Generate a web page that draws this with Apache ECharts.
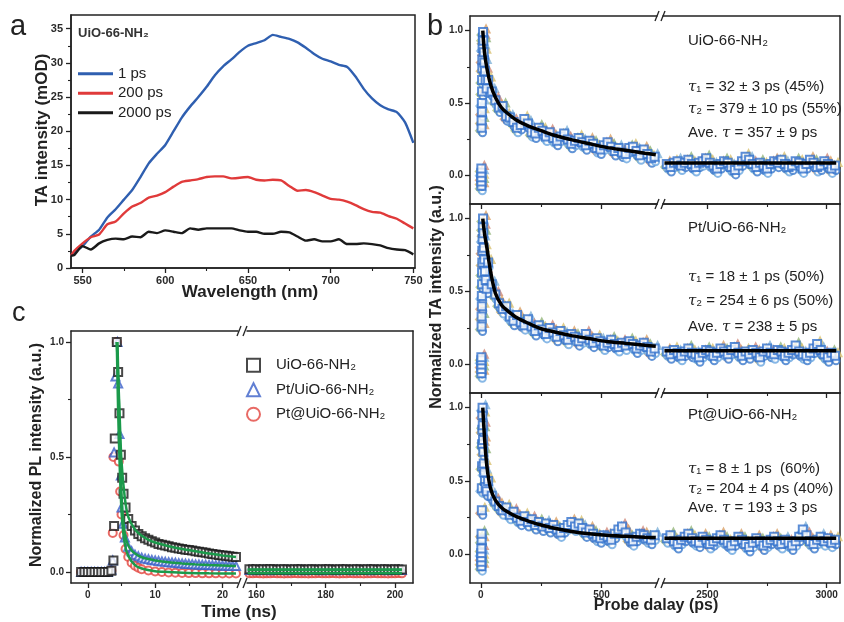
<!DOCTYPE html>
<html><head><meta charset="utf-8">
<script src="https://cdn.jsdelivr.net/npm/echarts@6/dist/echarts.min.js"></script>
<style>html,body{margin:0;padding:0;background:#fff}#c{width:844px;height:622px}</style>
</head><body><div id="c"></div>
<script>
// ---------- Panel a: TA spectra ----------
const wavelength = [543,545,550,555,560,565,570,575,580,585,590,595,600,605,610,615,620,625,630,635,640,645,650,655,660,665,670,675,680,685,690,695,700,705,710,715,720,725,730,735,740,745,750];
const ta1ps    = [1.8,2.3,3.2,4.6,5.6,7.4,8.6,10.0,11.4,13.3,15.3,16.7,18.0,20.0,22.0,23.6,25.0,26.5,28.2,29.5,30.5,31.6,32.5,32.9,33.3,34.1,33.8,33.5,33.0,32.2,31.3,30.6,30.2,29.7,29.4,28.0,26.2,24.8,23.8,23.2,22.8,21.3,18.3];
const ta200ps  = [1.8,2.5,3.6,4.5,4.9,6.4,6.8,8.0,9.0,9.5,10.3,10.6,11.1,11.9,12.6,12.8,13.0,13.3,13.4,13.4,13.1,13.2,13.3,12.9,12.8,12.9,12.8,12.0,11.3,11.4,11.1,10.6,10.1,10.0,9.7,9.2,8.6,8.2,8.1,7.6,7.2,6.5,5.8];
const ta2000ps = [1.8,1.9,3.2,2.7,3.6,4.1,4.3,4.2,4.6,4.5,5.3,5.1,5.5,5.3,5.1,5.8,5.6,5.8,5.8,5.8,5.8,5.5,5.3,5.3,5.0,5.0,5.3,5.2,4.6,4.0,4.2,3.9,3.9,4.2,3.5,3.5,3.6,3.5,3.3,2.9,2.7,2.6,2.0];
const aXTicks = [550,600,650,700,750];
const aXMinor = [575,625,675,725];
const aYTicks = [0,5,10,15,20,25,30,35];
const aYMinor = [2.5,7.5,12.5,17.5,22.5,27.5,32.5];

// ---------- Panel b: TA kinetics ----------
const bEarlyT = [2,2,2,2,2,3,3,4,4,5,5,6,6,7,8,9,10,12,14,17,20,24];
const bEarly1 = [-0.07,-0.04,-0.01,0.02,0.05,0.33,0.38,0.44,0.5,0.58,0.66,0.74,0.8,0.88,0.95,0.99,0.93,0.85,0.78,0.72,0.66,0.6];
const bEarly2 = [-0.06,-0.03,0.0,0.03,0.05,0.26,0.33,0.4,0.47,0.55,0.63,0.7,0.78,0.86,0.94,1.0,0.9,0.8,0.72,0.64,0.58,0.52];
const bEarly3 = [-0.08,-0.05,-0.02,0.01,0.04,0.1,0.14,0.3,0.45,0.6,0.75,0.85,0.95,1.0,0.88,0.78,0.7,0.62,0.56,0.5,0.46,0.43];
const bLeftT = [30,45,60,75,90,105,120,135,150,165,180,195,210,225,240,255,270,285,300,315,330,345,360,375,390,405,420,435,450,465,480,495,510,525,540,555,570,585,600,615,630,645,660,675,690,705,720];
const bLeft1 = [0.66,0.58,0.52,0.47,0.48,0.41,0.40,0.37,0.33,0.35,0.39,0.36,0.30,0.29,0.33,0.31,0.27,0.30,0.26,0.24,0.27,0.29,0.25,0.22,0.24,0.26,0.23,0.21,0.24,0.22,0.19,0.18,0.21,0.23,0.20,0.17,0.19,0.16,0.15,0.19,0.20,0.17,0.14,0.18,0.15,0.12,0.13];
const bLeft2 = [0.70,0.55,0.48,0.42,0.38,0.40,0.33,0.30,0.34,0.29,0.27,0.31,0.26,0.23,0.27,0.24,0.21,0.25,0.22,0.19,0.23,0.20,0.17,0.21,0.19,0.16,0.18,0.21,0.17,0.15,0.18,0.16,0.13,0.15,0.17,0.14,0.12,0.15,0.13,0.16,0.14,0.11,0.13,0.15,0.12,0.09,0.11];
const bLeft3 = [0.50,0.40,0.36,0.33,0.30,0.32,0.27,0.29,0.25,0.23,0.26,0.22,0.24,0.20,0.22,0.19,0.21,0.18,0.20,0.17,0.15,0.18,0.20,0.22,0.19,0.21,0.18,0.15,0.17,0.14,0.12,0.11,0.13,0.12,0.10,0.14,0.17,0.19,0.15,0.11,0.09,0.12,0.14,0.13,0.11,0.10,0.13];
const bRightT = [2330,2345,2360,2375,2390,2405,2420,2435,2450,2465,2480,2495,2510,2525,2540,2555,2570,2585,2600,2615,2630,2645,2660,2675,2690,2705,2720,2735,2750,2765,2780,2795,2810,2825,2840,2855,2870,2885,2900,2915,2930,2945,2960,2975,2990,3005,3020,3035];
const bRight1 = [0.08,0.06,0.09,0.10,0.07,0.09,0.11,0.08,0.06,0.09,0.10,0.12,0.09,0.07,0.05,0.08,0.10,0.09,0.06,0.04,0.07,0.10,0.13,0.11,0.08,0.06,0.09,0.07,0.05,0.08,0.10,0.09,0.11,0.08,0.06,0.07,0.10,0.09,0.05,0.08,0.11,0.09,0.06,0.07,0.10,0.08,0.05,0.07];
const bRight2 = [0.09,0.07,0.10,0.08,0.06,0.09,0.11,0.08,0.07,0.05,0.08,0.10,0.09,0.06,0.08,0.11,0.09,0.07,0.10,0.12,0.08,0.06,0.09,0.07,0.10,0.08,0.05,0.09,0.11,0.08,0.07,0.10,0.09,0.06,0.08,0.10,0.13,0.09,0.07,0.06,0.08,0.11,0.14,0.10,0.07,0.05,0.08,0.06];
const bRight3 = [0.11,0.13,0.09,0.07,0.10,0.12,0.14,0.11,0.09,0.08,0.12,0.10,0.07,0.09,0.11,0.13,0.10,0.08,0.06,0.09,0.12,0.10,0.07,0.05,0.08,0.11,0.09,0.06,0.08,0.10,0.12,0.09,0.07,0.10,0.08,0.06,0.09,0.12,0.17,0.13,0.09,0.07,0.10,0.12,0.09,0.11,0.08,0.10];
const bFitT = [8,15,25,40,60,85,110,150,200,250,300,370,450,520,600,680,725];
const bFit1 = [1.0,0.85,0.74,0.63,0.54,0.47,0.43,0.38,0.34,0.31,0.28,0.25,0.22,0.195,0.175,0.155,0.145];
const bFit2 = [1.0,0.9,0.8,0.64,0.49,0.41,0.37,0.32,0.28,0.245,0.225,0.2,0.178,0.158,0.145,0.132,0.125];
const bFit3 = [1.0,0.8,0.6,0.45,0.37,0.32,0.29,0.255,0.225,0.2,0.18,0.158,0.14,0.13,0.123,0.117,0.115];
const bFitRT = [2320,3040];
const bFitR1 = [0.088,0.088];
const bFitR2 = [0.095,0.095];
const bFitR3 = [0.11,0.11];
const bLeftTicks = [0,500], bLeftMinor = [250];
const bRightTicks = [2500,3000], bRightMinor = [2750];
const bYTicks = [0,0.5,1.0], bYMinor = [0.25,0.75];
const bTitles = ['UiO-66-NH₂','Pt/UiO-66-NH₂','Pt@UiO-66-NH₂'];
const bTau1 = ['{i|τ}₁ = 32 ± 3 ps (45%)','{i|τ}₁ = 18 ± 1 ps (50%)','{i|τ}₁ = 8 ± 1 ps  (60%)'];
const bTau2 = ['{i|τ}₂ = 379 ± 10 ps (55%)','{i|τ}₂ = 254 ± 6 ps (50%)','{i|τ}₂ = 204 ± 4 ps (40%)'];
const bAve  = ['Ave. {i|τ} = 357 ± 9 ps','Ave. {i|τ} = 238 ± 5 ps','Ave. {i|τ} = 193 ± 3 ps'];

// ---------- Panel c: PL decay ----------
const cBlackT = [-1,-0.5,0,0.5,1,1.5,2,2.5,3,3.5,3.8,3.9,4.0,4.3,4.5,4.7,4.9,5.1,5.3,5.6,6,6.5,7,7.5,8,8.5,9,9.5,10,10.5,11,11.5,12,12.5,13,13.5,14,14.5,15,15.5,16,16.5,17,17.5,18,18.5,19,19.5,20,20.5,21,21.5,22];
const cBlackV = [0,0,0,0,0,0,0,0,0,0.005,0.05,0.2,0.58,1.0,0.87,0.69,0.51,0.41,0.34,0.28,0.23,0.2,0.18,0.165,0.155,0.147,0.14,0.134,0.128,0.122,0.118,0.115,0.112,0.108,0.105,0.102,0.1,0.097,0.095,0.093,0.09,0.088,0.086,0.084,0.08,0.078,0.076,0.074,0.072,0.07,0.068,0.066,0.065];
const cBlueT = [-1,-0.5,0,0.5,1,1.5,2,2.5,3,3.5,3.7,3.9,4.1,4.4,4.5,4.7,4.9,5.0,5.2,5.5,6,6.5,7,7.5,8,8.5,9,9.5,10,10.5,11,11.5,12,12.5,13,13.5,14,14.5,15,15.5,16,16.5,17,17.5,18,18.5,19,19.5,20,20.5,21,21.5,22];
const cBlueV = [0,0,0,0,0,0,0,0,0,0.01,0.05,0.52,0.85,1.0,0.82,0.6,0.42,0.28,0.21,0.15,0.11,0.09,0.075,0.068,0.062,0.058,0.055,0.052,0.05,0.048,0.046,0.044,0.042,0.041,0.04,0.038,0.037,0.036,0.035,0.034,0.033,0.032,0.031,0.031,0.03,0.029,0.029,0.028,0.028,0.027,0.027,0.026,0.026];
const cRedT = [-1,-0.5,0,0.5,1,1.5,2,2.5,3,3.5,3.7,3.8,4.3,4.6,4.8,5.0,5.3,5.6,6,6.5,7,7.5,8,9,10,11,12,13,14,15,16,17,18,19,20,21,22];
const cRedV = [0,0,0,0,0,0,0,0,0,0.005,0.17,0.5,1.0,0.48,0.35,0.25,0.16,0.1,0.065,0.04,0.027,0.018,0.012,0.006,0.002,0,-0.002,-0.003,-0.004,-0.005,-0.005,-0.006,-0.006,-0.006,-0.007,-0.007,-0.007];
const cRightT = [158,159,160,161,162,163,164,165,166,167,168,169,170,171,172,173,174,175,176,177,178,179,180,181,182,183,184,185,186,187,188,189,190,191,192,193,194,195,196,197,198,199,200,201,202];
const cBlackR = [0.012,0.011,0.012,0.010,0.012,0.011,0.012,0.012,0.010,0.011,0.012,0.011,0.010,0.012,0.011,0.012,0.010,0.011,0.012,0.011,0.010,0.012,0.011,0.012,0.011,0.010,0.012,0.011,0.012,0.010,0.011,0.012,0.011,0.010,0.012,0.011,0.012,0.010,0.011,0.012,0.011,0.010,0.012,0.011,0.011];
const cBlueR  = [0.008,0.009,0.007,0.008,0.009,0.008,0.007,0.008,0.009,0.008,0.008,0.007,0.009,0.008,0.008,0.009,0.007,0.008,0.008,0.009,0.008,0.007,0.008,0.009,0.008,0.007,0.008,0.009,0.008,0.008,0.007,0.009,0.008,0.008,0.009,0.007,0.008,0.008,0.009,0.008,0.007,0.008,0.009,0.008,0.008];
const cRedR   = [-0.006,-0.006,-0.005,-0.006,-0.007,-0.006,-0.006,-0.005,-0.006,-0.006,-0.007,-0.006,-0.006,-0.005,-0.006,-0.006,-0.006,-0.007,-0.006,-0.006,-0.005,-0.006,-0.006,-0.006,-0.005,-0.006,-0.007,-0.006,-0.006,-0.005,-0.006,-0.006,-0.006,-0.007,-0.006,-0.006,-0.005,-0.006,-0.006,-0.006,-0.007,-0.006,-0.006,-0.005,-0.006];
const cFitBlackT = [4.3,4.5,4.7,5,5.5,6,7,8,9,10,12,14,16,18,20,22];
const cFitBlackV = [1.0,0.86,0.7,0.48,0.32,0.24,0.185,0.157,0.14,0.128,0.112,0.1,0.09,0.08,0.072,0.065];
const cFitBlueT = [4.4,4.6,4.8,5,5.3,5.7,6.2,7,8,9,10,12,14,16,18,20,22];
const cFitBlueV = [1.0,0.75,0.52,0.34,0.21,0.14,0.105,0.08,0.064,0.056,0.05,0.042,0.037,0.033,0.03,0.028,0.026];
const cFitRedT = [4.3,4.5,4.8,5.1,5.5,6,7,8,10,12,15,18,22];
const cFitRedV = [1.0,0.7,0.4,0.22,0.12,0.07,0.03,0.015,0.003,0,-0.004,-0.006,-0.007];
const cFitRT = [157.5,202];
const cFitBlackR = [0.011,0.011];
const cFitBlueR = [0.008,0.008];
const cFitRedR = [-0.006,-0.006];
const cLeftTicks = [0,10,20], cLeftMinor = [5,15];
const cRightTicks = [160,180,200], cRightMinor = [170,190];
const cYTicks = [0,0.5,1.0], cYMinor = [0.25,0.75];
const cNames = ['UiO-66-NH₂','Pt/UiO-66-NH₂','Pt@UiO-66-NH₂'];

// ---------- build ----------
const FONT = "'Liberation Sans', Arial, sans-serif";
const AX = '#222';
const grids = [], xAxes = [], yAxes = [], series = [], graphics = [];
const zip = (t, v) => t.map((x, i) => [x, v[i]]);
const f1 = v => v.toFixed(1);
const f0 = v => String(v);

function grid(l, t, w, h, show) {
  grids.push({left: l, top: t, width: w, height: h, show: !!show, borderColor: AX, borderWidth: 1.5, backgroundColor: 'transparent'});
  return grids.length - 1;
}
function axis(list, g, min, max, pos, o) {
  o = o || {};
  const major = o.major || [];
  const a = {type: 'value', gridIndex: g, min: min, max: max, position: pos,
    axisLine: {show: o.line !== false, onZero: false, lineStyle: {color: AX, width: 1.5}},
    axisTick: {show: major.length > 0, customValues: major, length: 5, lineStyle: {color: AX, width: 1.3}},
    axisLabel: {show: major.length > 0 && !o.noLabel, customValues: major, color: '#2a2a2a', fontSize: o.fs || 11,
      fontWeight: 'bold', fontFamily: FONT, margin: o.margin || 8, formatter: o.fmt || f0},
    splitLine: {show: false}};
  list.push(a);
  const idx = list.length - 1;
  if (o.minor && o.minor.length) {
    list.push({type: 'value', gridIndex: g, min: min, max: max, position: pos,
      axisLine: {show: false, onZero: false},
      axisTick: {show: true, customValues: o.minor, length: 3, lineStyle: {color: AX, width: 1.1}},
      axisLabel: {show: false}, splitLine: {show: false}});
  }
  return idx;
}
function text(x, y, s, o) {
  o = o || {};
  const fs = o.fs || 15;
  graphics.push({type: 'text', x: x, y: y, rotation: o.rot || 0, z: 100,
    style: {text: s, fontSize: fs, fontWeight: o.fw || 'normal', fontFamily: FONT, fill: o.fill || '#222',
      align: o.align || 'left', verticalAlign: o.va || 'middle',
      rich: {i: {fontStyle: 'italic', fontSize: fs, fontFamily: "'DejaVu Serif', serif", fill: o.fill || '#222'}}}});
}
function brk(x, y) {
  graphics.push({type: 'line', z: 100, shape: {x1: x - 5, y1: y + 5, x2: x - 1, y2: y - 5}, style: {stroke: AX, lineWidth: 1.3}});
  graphics.push({type: 'line', z: 100, shape: {x1: x + 1, y1: y + 5, x2: x + 5, y2: y - 5}, style: {stroke: AX, lineWidth: 1.3}});
}

// Panel a
{
  const g = grid(71, 15, 344, 253, true);
  const xi = axis(xAxes, g, 543, 751, 'bottom', {major: aXTicks, minor: aXMinor, fs: 11, margin: 7});
  const yi = axis(yAxes, g, 0, 37, 'left', {major: aYTicks, minor: aYMinor, fs: 11, margin: 8});
  const mk = (name, vals, color) => ({name: name, type: 'line', xAxisIndex: xi, yAxisIndex: yi, data: zip(wavelength, vals),
    symbol: 'none', lineStyle: {color: color, width: 2.4}, itemStyle: {color: color}, smooth: 0.2});
  series.push(mk('1 ps', ta1ps, '#2f5fb0'), mk('200 ps', ta200ps, '#e03a3a'), mk('2000 ps', ta2000ps, '#1a1a1a'));
  text(10, 27, 'a', {fs: 29});
  text(250, 292, 'Wavelength (nm)', {fs: 17, fw: 'bold', align: 'center'});
  text(42, 130, 'TA intensity (mOD)', {fs: 17, fw: 'bold', align: 'center', rot: Math.PI / 2});
  text(78, 33, 'UiO-66-NH₂', {fs: 13, fw: 'bold', fill: '#333'});
}

// Panel b
const pal = ['#d9a066', '#93b57a', '#d8c070', '#7fb2d8', '#d08a7a'];
const pal2 = ['#a3bf86', '#d6b46a', '#d99a6e', '#86b6dc', '#b2c27a'];
const bTops = [16, 204, 393], bH = [188, 189, 190];
const bEarly = [bEarly1, bEarly2, bEarly3], bLeft = [bLeft1, bLeft2, bLeft3], bRight = [bRight1, bRight2, bRight3];
const bFit = [bFit1, bFit2, bFit3], bFitR = [bFitR1, bFitR2, bFitR3];
const bTextY = [[41, 87, 109, 133], [228, 277, 301, 327], [415, 469, 489, 508]];
for (let i = 0; i < 3; i++) {
  const last = i === 2;
  const gl = grid(470, bTops[i], 187, bH[i]);
  const gr = grid(663, bTops[i], 177, bH[i]);
  const xl = axis(xAxes, gl, -45, 730, 'bottom', {major: bLeftTicks, minor: bLeftMinor, noLabel: !last, fs: 10, margin: 7});
  axis(xAxes, gl, -45, 730, 'top', {});
  const xr = axis(xAxes, gr, 2314, 3056, 'bottom', {major: bRightTicks, minor: bRightMinor, noLabel: !last, fs: 10, margin: 7});
  axis(xAxes, gr, 2314, 3056, 'top', {});
  const yl = axis(yAxes, gl, -0.195, 1.1, 'left', {major: bYTicks, minor: bYMinor, fs: 10, fmt: f1, margin: 7});
  const yr = axis(yAxes, gr, -0.195, 1.1, 'right', {});
  const left = zip(bEarlyT.concat(bLeftT), bEarly[i].concat(bLeft[i]));
  const right = zip(bRightT, bRight[i]);
  const sec = (data, xa, ya, sym, off, p) => ({type: 'scatter', silent: true, xAxisIndex: xa, yAxisIndex: ya, data: data,
    symbol: sym, symbolSize: 7, symbolOffset: off,
    itemStyle: {color: q => p[q.dataIndex % p.length], borderWidth: 1.1}});
  const main = (data, xa, ya) => ({type: 'scatter', silent: true, xAxisIndex: xa, yAxisIndex: ya, data: data,
    symbol: 'emptyRect', symbolSize: 8, itemStyle: {color: '#3270cc', borderWidth: 1.4}});
  const fit = (data, xa, ya) => ({type: 'line', silent: true, xAxisIndex: xa, yAxisIndex: ya, data: data,
    symbol: 'none', smooth: 0.3, z: 5, lineStyle: {color: '#000', width: 3.5}});
  [[left, xl, yl], [right, xr, yr]].forEach(([d, xa, ya]) => {
    series.push(sec(d, xa, ya, 'emptyDiamond', [-2, 3], pal2));
    series.push(sec(d, xa, ya, 'emptyTriangle', [3, -3], pal));
    series.push(sec(d, xa, ya, 'emptyCircle', [1, 5], ['#6aa6e0', '#3a78cc']));
    series.push(main(d, xa, ya));
  });
  series.push(fit(zip(bFitT, bFit[i]), xl, yl), fit(zip(bFitRT, bFitR[i]), xr, yr));
  brk(660, bTops[i]);
  text(688, bTextY[i][0], bTitles[i], {fs: 15});
  text(688, bTextY[i][1], bTau1[i], {fs: 15});
  text(688, bTextY[i][2], bTau2[i], {fs: 15});
  text(688, bTextY[i][3], bAve[i], {fs: 15});
}
brk(660, 583);
text(427, 27, 'b', {fs: 29});
text(437, 297, 'Normalized TA intensity (a.u.)', {fs: 16, fw: 'bold', align: 'center', rot: Math.PI / 2});
text(656, 606, 'Probe dalay (ps)', {fs: 16, fw: 'bold', align: 'center'});

// Panel c
{
  const gl = grid(71, 331, 167, 252);
  const gr = grid(247, 331, 166, 252);
  const xl = axis(xAxes, gl, -2.5, 22.3, 'bottom', {major: cLeftTicks, minor: cLeftMinor, fs: 10, margin: 7});
  axis(xAxes, gl, -2.5, 22.3, 'top', {});
  const xr = axis(xAxes, gr, 157.3, 205.2, 'bottom', {major: cRightTicks, minor: cRightMinor, fs: 10, margin: 7});
  axis(xAxes, gr, 157.3, 205.2, 'top', {});
  const yl = axis(yAxes, gl, -0.048, 1.048, 'left', {major: cYTicks, minor: cYMinor, fs: 10, fmt: f1, margin: 7});
  const yr = axis(yAxes, gr, -0.048, 1.048, 'right', {});
  const sc = (name, data, xa, ya, sym, size, color, bw) => ({name: name, type: 'scatter', xAxisIndex: xa, yAxisIndex: ya, data: data,
    symbol: sym, symbolSize: size, itemStyle: {color: color, borderWidth: bw}});
  const fit = (data, xa, ya) => ({type: 'line', silent: true, xAxisIndex: xa, yAxisIndex: ya, data: data,
    symbol: 'none', smooth: 0.3, z: 5, lineStyle: {color: '#1b9a4b', width: 2.5}});
  series.push(sc(cNames[2], zip(cRedT, cRedV), xl, yl, 'emptyCircle', 8, '#e2453e', 1.3));
  series.push(sc(cNames[2], zip(cRightT, cRedR), xr, yr, 'emptyCircle', 8, '#e2453e', 1.3));
  series.push(sc(cNames[1], zip(cBlueT, cBlueV), xl, yl, 'emptyTriangle', 8, '#3a5fc8', 1.5));
  series.push(sc(cNames[1], zip(cRightT, cBlueR), xr, yr, 'emptyTriangle', 8, '#3a5fc8', 1.5));
  series.push(sc(cNames[0], zip(cBlackT, cBlackV), xl, yl, 'emptyRect', 8, '#1a1a1a', 1.8));
  series.push(sc(cNames[0], zip(cRightT, cBlackR), xr, yr, 'emptyRect', 8, '#1a1a1a', 1.8));
  series.push(fit(zip(cFitBlackT, cFitBlackV), xl, yl), fit(zip(cFitBlueT, cFitBlueV), xl, yl), fit(zip(cFitRedT, cFitRedV), xl, yl));
  series.push(fit(zip(cFitRT, cFitBlackR), xr, yr), fit(zip(cFitRT, cFitBlueR), xr, yr), fit(zip(cFitRT, cFitRedR), xr, yr));
  brk(242, 331); brk(242, 583);
  text(12, 314, 'c', {fs: 27});
  text(37, 455, 'Normalized PL intensity (a.u.)', {fs: 16, fw: 'bold', align: 'center', rot: Math.PI / 2});
  text(239, 612, 'Time (ns)', {fs: 17, fw: 'bold', align: 'center'});
}

const chart = echarts.init(document.getElementById('c'), null, {renderer: 'canvas'});
chart.setOption({
  animation: false,
  backgroundColor: '#fff',
  textStyle: {fontFamily: FONT},
  grid: grids, xAxis: xAxes, yAxis: yAxes, series: series, graphic: graphics,
  legend: [
    {data: ['1 ps', '200 ps', '2000 ps'], orient: 'vertical', left: 78, top: 64, padding: 0, icon: 'rect',
     itemWidth: 35, itemHeight: 3, itemGap: 0, selectedMode: false,
     textStyle: {fontSize: 15, lineHeight: 19.5, color: '#222', fontFamily: FONT}},
    {data: cNames, orient: 'vertical', left: 246, top: 353, padding: 0, itemWidth: 13, itemHeight: 13, itemGap: 0,
     selectedMode: false, textStyle: {fontSize: 15, lineHeight: 24.5, color: '#222', fontFamily: FONT, padding: [0, 0, 0, 11]}}
  ]
});
</script></body></html>
